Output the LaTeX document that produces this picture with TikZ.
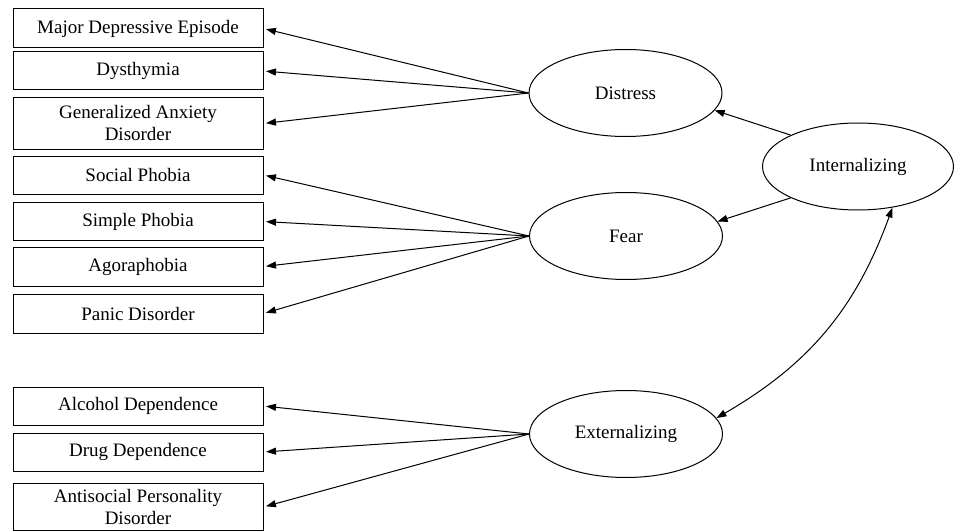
\documentclass[tikz,border=0pt]{standalone}
\usepackage{fontspec}
\setmainfont{Liberation Serif}
\usetikzlibrary{arrows.meta,shapes.geometric}
\begin{document}
\begin{tikzpicture}[x=1pt,y=-1pt,
  every node/.style={font=\fontsize{19}{22}\selectfont},
  obs/.style={draw,line width=1pt,minimum width=250pt,inner sep=0pt,align=center},
  lat/.style={draw,ellipse,line width=1pt,minimum width=193pt,minimum height=87pt,inner sep=0pt},
  arr/.style={line width=1pt,-{Triangle[length=10pt,width=7pt]},shorten >=2.5pt},
  darr/.style={line width=1pt,{Triangle[length=10pt,width=7pt]}-{Triangle[length=10pt,width=7pt]}}]
\useasboundingbox (0,0) rectangle (955,532);
\node[obs,minimum height=39pt] (mde) at (138,28.5) {Major Depressive Episode};
\node[obs,minimum height=38pt] (dys) at (138,71) {Dysthymia};
\node[obs,minimum height=51pt] (gad) at (138,123.5) {Generalized Anxiety\\Disorder};
\node[obs,minimum height=38pt] (soc) at (138,175) {Social Phobia};
\node[obs,minimum height=38pt] (sim) at (138,221.5) {Simple Phobia};
\node[obs,minimum height=39pt] (ago) at (138,266.5) {Agoraphobia};
\node[obs,minimum height=39pt] (pan) at (138,313.5) {Panic Disorder};
\node[obs,minimum height=38pt] (alc) at (138,406) {Alcohol Dependence};
\node[obs,minimum height=38pt] (dru) at (138,452) {Drug Dependence};
\node[obs,minimum height=47pt] (asp) at (138,507) {Antisocial Personality\\Disorder};
\node[lat] (dis) at (625.5,93) {Distress};
\node[lat] (fea) at (626,236) {Fear};
\node[lat] (ext) at (626,434) {Externalizing};
\node[lat,minimum width=191pt] (int) at (858,166.5) {Internalizing};
\foreach \t in {mde,dys,gad} \draw[arr] (dis.west) -- (\t.east);
\foreach \t in {soc,sim,ago,pan} \draw[arr] (fea.west) -- (\t.east);
\foreach \t in {alc,dru,asp} \draw[arr] (ext.west) -- (\t.east);
\draw[arr,shorten >=0pt] (int.155) -- (dis.-11);
\draw[arr,shorten >=0pt] (int.205) -- (fea.9);
\draw[darr] (ext.10) to[bend right=20] (int.-50);
\end{tikzpicture}
\end{document}
